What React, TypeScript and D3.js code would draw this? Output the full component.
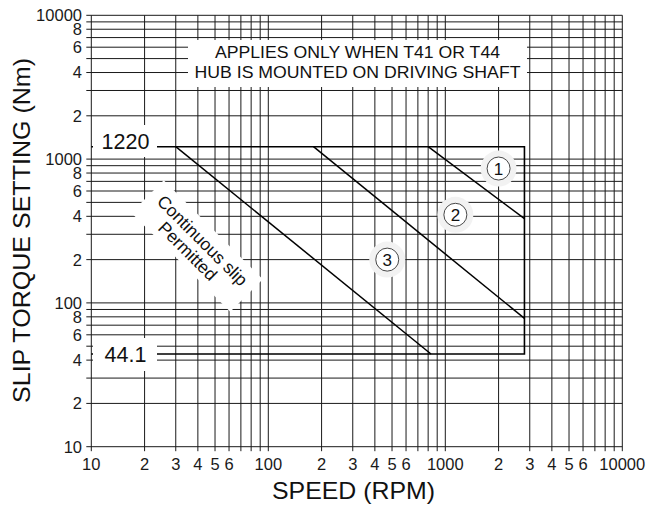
import React from "react";
import * as d3 from "d3";

const W = 649;
const H = 506;

// Axis domains
const speedDomain = [10, 10000];
const torqueDomain = [10, 10000];

// Tick labels
const xTickValues = [10, 20, 30, 40, 50, 60, 100, 200, 300, 400, 500, 600, 1000, 2000, 3000, 4000, 5000, 6000, 10000];
const xTickLabels = ["10", "2", "3", "4", "5", "6", "100", "2", "3", "4", "5", "6", "1000", "2", "3", "4", "5", "6", "10000"];
const yTickValues = [10, 20, 40, 60, 80, 100, 200, 400, 600, 800, 1000, 2000, 4000, 6000, 8000, 10000];
const yTickLabels = ["10", "2", "4", "6", "8", "100", "2", "4", "6", "8", "1000", "2", "4", "6", "8", "10000"];

// Envelope limits
const minTorque = 44.1;
const maxTorque = 1220;
const maxSpeed = 2800;

// Constant power curves (speed rpm, torque Nm)
const curve1 = [[800, 1220], [2800, 385]];
const curve2 = [[180, 1220], [2800, 78]];
const curve3 = [[30, 1220], [830, 44.1]];
const curves = [curve1, curve2, curve3];

// Curve number markers
const markerIds = ["1", "2", "3"];
const markerSpeeds = [2000, 1140, 470];
const markerTorques = [860, 410, 200];

const FONT = "'Liberation Sans', Arial, Helvetica, sans-serif";

export default function App() {
  const x = d3.scaleLog().domain(speedDomain).range([91.3, 622.3]);
  const y = d3.scaleLog().domain(torqueDomain).range([446.7, 15.3]);

  const gridVals: number[] = [];
  for (const dec of [10, 100, 1000]) {
    for (let k = 1; k < 10; k++) gridVals.push(dec * k);
  }
  gridVals.push(10000);

  const line = d3
    .line<number[]>()
    .x((d) => x(d[0]))
    .y((d) => y(d[1]));

  const x0 = x(speedDomain[0]);
  const x1 = x(speedDomain[1]);
  const y0 = y(torqueDomain[0]);
  const y1 = y(torqueDomain[1]);

  const envelope = [
    [speedDomain[0], maxTorque],
    [maxSpeed, maxTorque],
    [maxSpeed, minTorque],
    [speedDomain[0], minTorque],
  ];

  const gridColor = "#1a1a1a";

  return (
    <svg
      width={W}
      height={H}
      style={{ position: "absolute", left: 0, top: 0, background: "#fff" }}
      fontFamily={FONT}
    >
      <rect x={0} y={0} width={W} height={H} fill="#fff" />
      {/* grid */}
      <g stroke={gridColor} strokeWidth={1}>
        {gridVals.map((v) => (
          <line key={"v" + v} x1={x(v)} x2={x(v)} y1={y1} y2={y0 + 4.5} />
        ))}
        {gridVals.map((v) => (
          <line key={"h" + v} x1={x0 - 5} x2={x1} y1={y(v)} y2={y(v)} />
        ))}
      </g>

      {/* tick labels */}
      <g fontSize={16.5} fill="#1a1a1a">
        {xTickValues.map((v, i) => (
          <text key={"xt" + i} x={x(v)} y={470} textAnchor="middle">
            {xTickLabels[i]}
          </text>
        ))}
        {yTickValues.map((v, i) => (
          <text key={"yt" + i} x={82} y={y(v)} dy="0.36em" textAnchor="end">
            {yTickLabels[i]}
          </text>
        ))}
      </g>

      {/* axis titles */}
      <text x={353.5} y={499} fontSize={24} textAnchor="middle" fill="#111" textLength={163} lengthAdjust="spacingAndGlyphs">
        SPEED (RPM)
      </text>
      <text
        transform={`translate(30,230.5) rotate(-90)`}
        fontSize={24.5}
        textAnchor="middle"
        fill="#111"
        textLength={345}
        lengthAdjust="spacingAndGlyphs"
      >
        SLIP TORQUE SETTING (Nm)
      </text>

      {/* note box */}
      <rect x={188} y={40} width={339} height={47} fill="#fff" />
      <text x={357.5} y={52.5} dy="0.36em" fontSize={16.5} textAnchor="middle" fill="#111" textLength={285} lengthAdjust="spacingAndGlyphs">
        APPLIES ONLY WHEN T41 OR T44
      </text>
      <text x={357.5} y={72.5} dy="0.36em" fontSize={16.5} textAnchor="middle" fill="#111" textLength={326} lengthAdjust="spacingAndGlyphs">
        HUB IS MOUNTED ON DRIVING SHAFT
      </text>

      {/* envelope */}
      <path d={line(envelope) || ""} fill="none" stroke="#000" strokeWidth={1.6} />
      {curves.map((c, i) => (
        <path key={"c" + i} d={line(c) || ""} fill="none" stroke="#000" strokeWidth={1.5} />
      ))}

      {/* limit labels */}
      <rect x={93} y={125} width={64} height={32} fill="#fff" />
      <text x={125.5} y={141} dy="0.36em" fontSize={21.5} textAnchor="middle" fill="#111">
        {String(maxTorque)}
      </text>
      <rect x={93} y={338} width={64} height={33} fill="#fff" />
      <text x={125.5} y={354.5} dy="0.36em" fontSize={21.5} textAnchor="middle" fill="#111">
        {String(minTorque)}
      </text>

      {/* continuous slip note */}
      <g transform="translate(197,246) rotate(45)">
        <rect x={-70} y={-23} width={140} height={46} fill="#fff" />
        <text x={0} y={-8} dy="0.36em" fontSize={17.5} textAnchor="middle" fill="#111">
          Continuous slip
        </text>
        <text x={-3} y={10} dy="0.36em" fontSize={17.5} textAnchor="middle" fill="#111">
          Permitted
        </text>
      </g>

      {/* curve markers */}
      {markerIds.map((id, i) => {
        const cx = x(markerSpeeds[i]);
        const cy = y(markerTorques[i]);
        return (
          <g key={"m" + id}>
            <circle cx={cx} cy={cy} r={18} fill="#f2f2f2" />
            <circle cx={cx} cy={cy} r={11.5} fill="#fff" stroke="#333" strokeWidth={0.9} />
            <text x={cx} y={cy} dy="0.36em" fontSize={17} textAnchor="middle" fill="#111">
              {id}
            </text>
          </g>
        );
      })}
    </svg>
  );
}
